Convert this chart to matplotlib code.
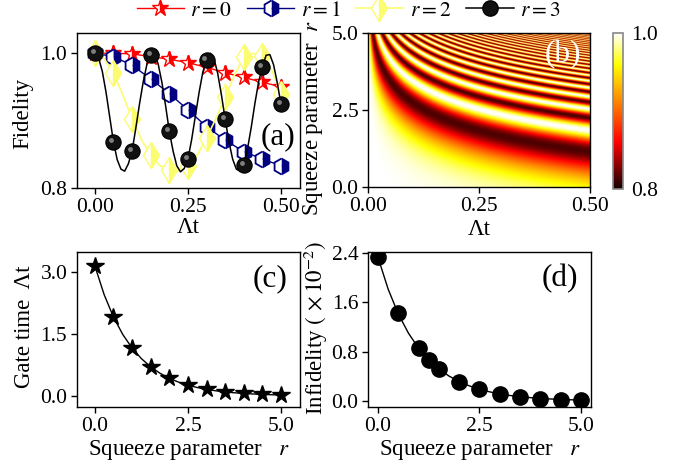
import numpy as np
import matplotlib
matplotlib.use('Agg')
import matplotlib.pyplot as plt
from matplotlib.colors import LinearSegmentedColormap
from matplotlib.transforms import offset_copy

plt.rcParams['font.family'] = ['Liberation Serif', 'DejaVu Serif']
plt.rcParams['mathtext.fontset'] = 'stix'
plt.rcParams['font.size'] = 16

# ---------------- data ----------------
# panel (a): fidelity vs Lambda t for r = 0..3
t_marks = [0.00, 0.05, 0.10, 0.15, 0.20, 0.25, 0.30, 0.35, 0.40, 0.45, 0.50]
fid_r0 = [1.000, 1.000, 0.999, 0.995, 0.991, 0.986, 0.979, 0.971, 0.964, 0.957, 0.950]
fid_r1 = [1.000, 0.995, 0.982, 0.962, 0.940, 0.916, 0.891, 0.871, 0.854, 0.843, 0.833]
fid_r2 = [1.000, 0.970, 0.903, 0.849, 0.827, 0.833, 0.874, 0.935, 0.994, 0.996, 0.940]

t_r2_curve = [0.000, 0.025, 0.050, 0.075, 0.100, 0.125, 0.150, 0.175, 0.200, 0.225,
              0.250, 0.275, 0.300, 0.325, 0.350, 0.375, 0.400, 0.425, 0.450, 0.475, 0.500]
fid_r2_curve = [1.000, 0.992, 0.970, 0.938, 0.903, 0.872, 0.849, 0.833, 0.827, 0.826,
                0.833, 0.849, 0.874, 0.903, 0.935, 0.968, 0.994, 1.000, 0.996, 0.975, 0.940]

t_r3_curve = np.linspace(0.0, 0.5, 51)
fid_r3_curve = [1.000, 0.993, 0.973, 0.942, 0.905, 0.868, 0.842, 0.828, 0.825, 0.836,
                0.855, 0.889, 0.925, 0.958, 0.984, 0.997, 0.998, 0.984, 0.957, 0.922,
                0.884, 0.855, 0.833, 0.824, 0.829, 0.843, 0.872, 0.907, 0.942, 0.972,
                0.990, 1.000, 0.992, 0.970, 0.938, 0.902, 0.869, 0.843, 0.828, 0.825,
                0.834, 0.858, 0.890, 0.926, 0.958, 0.980, 0.997, 0.998, 0.983, 0.956,
                0.924]
fid_r3 = fid_r3_curve[::5]

legend_labels = ['$r=0$', '$r=1$', '$r=2$', '$r=3$']

# panel (b): fidelity map parameters (squeezed-oscillation model)
heat_amp = 0.185
heat_t = np.linspace(0.0, 0.5, 1400)
heat_r = np.linspace(0.0, 5.0, 700)

# panel (c): gate time vs r
r_gate = [0.0, 0.5, 1.0, 1.5, 2.0, 2.5, 3.0, 3.5, 4.0, 4.5, 5.0]
gate_time = [3.14, 1.90, 1.16, 0.70, 0.43, 0.26, 0.157, 0.095, 0.058, 0.035, 0.021]
r_gate_curve = [0.0, 0.25, 0.5, 0.75, 1.0, 1.25, 1.5, 1.75, 2.0, 2.25, 2.5,
                2.75, 3.0, 3.25, 3.5, 3.75, 4.0, 4.25, 4.5, 4.75, 5.0]
gate_curve = [3.142, 2.447, 1.905, 1.484, 1.156, 0.900, 0.701, 0.546, 0.425, 0.331, 0.258,
              0.201, 0.156, 0.122, 0.095, 0.074, 0.058, 0.045, 0.035, 0.027, 0.021]

# panel (d): infidelity vs r
r_inf = [0.0, 0.5, 1.0, 1.25, 1.5, 2.0, 2.5, 3.0, 3.5, 4.0, 4.5, 5.0]
infid = [2.33, 1.42, 0.86, 0.67, 0.52, 0.31, 0.19, 0.12, 0.065, 0.040, 0.022, 0.012]
r_inf_curve = r_gate_curve
infid_curve = [2.330, 1.815, 1.413, 1.101, 0.857, 0.668, 0.520, 0.405, 0.315, 0.246, 0.191,
               0.149, 0.116, 0.090, 0.070, 0.055, 0.043, 0.033, 0.026, 0.020, 0.016]

# ---------------- figure ----------------
W, H = 693, 466
fig = plt.figure(figsize=(W / 100, H / 100), dpi=100)

def box(l, r, t, b):
    return [l / W, 1 - b / H, (r - l) / W, (b - t) / H]

axa = fig.add_axes(box(77, 300, 33, 188))
axb = fig.add_axes(box(368, 590, 33, 187))
cax = fig.add_axes(box(613, 623, 33, 189))
axc = fig.add_axes(box(77, 300, 252, 407))
axd = fig.add_axes(box(368, 591, 252, 407))

FS = 16.5
TS = 15.5
for ax in (axa, axb, axc, axd):
    ax.tick_params(direction='out', length=4, width=1, labelsize=TS, pad=3)
    for s in ax.spines.values():
        s.set_linewidth(1.0)

# (a)
yellow = '#fcfc70'
la0, = axa.plot(t_marks, fid_r0, color='red', lw=1, marker='*', ms=12,
                mfc='red', mfcalt='white', fillstyle='right', mec='red', mew=1)
la1, = axa.plot(t_marks, fid_r1, color='navy', lw=1, marker='h', ms=11.5,
                mfc='navy', mfcalt='white', fillstyle='right', mec='navy', mew=1.3)
axa.plot(t_r2_curve, fid_r2_curve, color=yellow, lw=1.2)
la2, = axa.plot(t_marks, fid_r2, color=yellow, lw=0, marker='d', ms=13,
                mfc=yellow, mfcalt='white', fillstyle='right', mec=yellow, mew=1)
axa.plot(t_r3_curve, fid_r3_curve, color='black', lw=1.1)
la3, = axa.plot(t_marks, fid_r3, color='black', lw=0, marker='o', ms=11,
                mfc='#111111', mec='black', mew=0.8)
hl = offset_copy(axa.transData, fig=fig, x=-1.5, y=1.5, units='points')
axa.plot(t_marks, fid_r3, lw=0, marker='o', ms=3.5, mfc='#9a9a9a', mec='none',
         alpha=0.8, transform=hl)

# legend handles with full lines
h2 = plt.Line2D([], [], color=yellow, lw=1.2, marker='d', ms=13, mfc=yellow,
                mfcalt='white', fillstyle='right', mec=yellow)
h3 = plt.Line2D([], [], color='black', lw=1.1, marker='o', ms=11, mfc='#111111', mec='black')
fig.legend([la0, la1, h2, h3], legend_labels, loc='center', ncol=4,
           bbox_to_anchor=(0.503, 0.977), frameon=False, fontsize=15.5,
           handlelength=2.2, columnspacing=0.7, handletextpad=0.3, borderaxespad=0)

axa.set_xlim(-0.048, 0.551)
axa.set_ylim(0.8, 1.03)
axa.set_xticks([0.0, 0.25, 0.5])
axa.set_xticklabels(['0.00', '0.25', '0.50'])
axa.set_yticks([0.8, 1.0])
axa.set_yticklabels(['0.8', '1.0'])
axa.set_ylabel('Fidelity', fontsize=FS)
axa.yaxis.set_label_coords(-0.197, 0.48)
axa.set_xlabel('Λt', fontsize=FS)
axa.xaxis.set_label_coords(0.5, -0.185)
axa.text(0.9, 0.33, '(a)', transform=axa.transAxes, fontsize=22.5, ha='center', va='center')

# (b)
cmap = LinearSegmentedColormap.from_list('hotlike', [
    (0.0, (0.08, 0.0, 0.0)), (0.3, (1.0, 0.0, 0.0)), (0.6, (1.0, 0.6, 0.0)),
    (0.8, (1.0, 1.0, 0.0)), (1.0, (1.0, 1.0, 1.0))])
TT, RR = np.meshgrid(heat_t, heat_r)
field = 1 - heat_amp * np.sin(np.exp(RR) * TT) ** 2
im = axb.imshow(field, origin='lower', extent=[0, 0.5, 0, 5], aspect='auto',
                cmap=cmap, vmin=0.8, vmax=1.0, interpolation='antialiased')
axb.set_xlim(0, 0.5)
axb.set_ylim(0, 5)
axb.set_xticks([0.0, 0.25, 0.5])
axb.set_xticklabels(['0.00', '0.25', '0.50'])
axb.set_yticks([0.0, 2.5, 5.0])
axb.set_yticklabels(['0.0', '2.5', '5.0'])
axb.set_xlabel('Λt', fontsize=FS)
axb.xaxis.set_label_coords(0.5, -0.205)
axb.set_ylabel('Squeeze parameter  $r$', fontsize=FS)
axb.yaxis.set_label_coords(-0.194, 0.45)
axb.text(0.88, 0.86, '(b)', transform=axb.transAxes, fontsize=22.5, ha='center',
         va='center', color='white')

cb = fig.colorbar(im, cax=cax, ticks=[0.8, 1.0])
cb.ax.set_yticklabels(['0.8', '1.0'])
cb.ax.tick_params(length=0, labelsize=TS, pad=6)
cb.outline.set_edgecolor('#888888')
cb.outline.set_linewidth(1.2)

# (c)
axc.plot(r_gate_curve, gate_curve, color='black', lw=1)
axc.plot(r_gate, gate_time, lw=0, marker='*', ms=13, color='black')
axc.set_xlim(-0.48, 5.51)
axc.set_ylim(-0.27, 3.48)
axc.set_xticks([0.0, 2.5, 5.0])
axc.set_xticklabels(['0.0', '2.5', '5.0'])
axc.set_yticks([0.0, 1.5, 3.0])
axc.set_yticklabels(['0.0', '1.5', '3.0'])
axc.set_ylabel('Gate time  Λt', fontsize=FS)
axc.yaxis.set_label_coords(-0.19, 0.516)
axc.set_xlabel('Squeeze parameter   $r$', fontsize=FS)
axc.xaxis.set_label_coords(0.5, -0.2)
axc.text(0.865, 0.83, '(c)', transform=axc.transAxes, fontsize=22.5, ha='center', va='center')

# (d)
axd.plot(r_inf_curve, infid_curve, color='black', lw=1)
axd.plot(r_inf, infid, lw=0, marker='o', ms=11, color='black')
axd.set_xlim(-0.246, 5.25)
axd.set_ylim(-0.097, 2.416)
axd.set_xticks([0.0, 2.5, 5.0])
axd.set_xticklabels(['0.0', '2.5', '5.0'])
axd.set_yticks([0.0, 0.8, 1.6, 2.4])
axd.set_yticklabels(['0.0', '0.8', '1.6', '2.4'])
axd.set_ylabel(r'Infidelity $(\,\times10^{-2})$', fontsize=FS)
axd.yaxis.set_label_coords(-0.17, 0.51)
axd.set_xlabel('Squeeze parameter   $r$', fontsize=FS)
axd.xaxis.set_label_coords(0.5, -0.2)
axd.text(0.86, 0.83, '(d)', transform=axd.transAxes, fontsize=22.5, ha='center', va='center')

fig.savefig('out.png', dpi=100)
